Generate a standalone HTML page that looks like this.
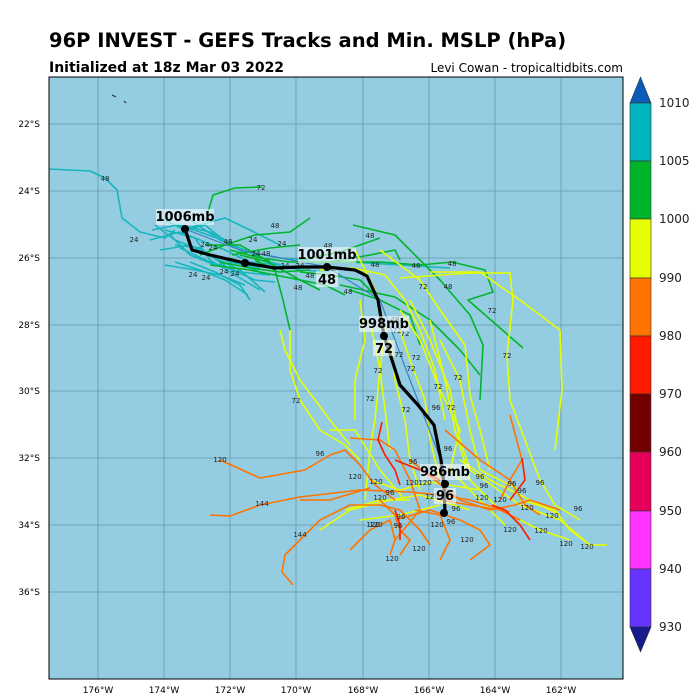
<!DOCTYPE html>
<html><head><meta charset="utf-8"><style>
html,body{margin:0;padding:0;background:#fff;}
svg{display:block;font-family:"DejaVu Sans","Liberation Sans",sans-serif;}
</style></head><body>
<svg width="700" height="700" viewBox="0 0 700 700" xmlns="http://www.w3.org/2000/svg">
<text x="49" y="47" font-size="19.5" font-weight="bold" fill="#000">96P INVEST - GEFS Tracks and Min. MSLP (hPa)</text>
<text x="49" y="72" font-size="14" font-weight="bold" fill="#000">Initialized at 18z Mar 03 2022</text>
<text x="623" y="72" font-size="12" fill="#000" text-anchor="end">Levi Cowan - tropicaltidbits.com</text>
<rect x="49" y="77" width="574" height="602" fill="#94cde2"/>
<g stroke="#5e8a9c" stroke-width="0.8" opacity="0.8">
<line x1="98" y1="77" x2="98" y2="679"/><line x1="164" y1="77" x2="164" y2="679"/><line x1="230" y1="77" x2="230" y2="679"/><line x1="296" y1="77" x2="296" y2="679"/><line x1="363" y1="77" x2="363" y2="679"/><line x1="429" y1="77" x2="429" y2="679"/><line x1="495" y1="77" x2="495" y2="679"/><line x1="561" y1="77" x2="561" y2="679"/>
<line x1="49" y1="124" x2="623" y2="124"/><line x1="49" y1="191" x2="623" y2="191"/><line x1="49" y1="258" x2="623" y2="258"/><line x1="49" y1="325" x2="623" y2="325"/><line x1="49" y1="391" x2="623" y2="391"/><line x1="49" y1="458" x2="623" y2="458"/><line x1="49" y1="525" x2="623" y2="525"/><line x1="49" y1="592" x2="623" y2="592"/>
</g>
<path d="M112,95 l4,2 M124,101 l2,2" stroke="#333" stroke-width="1.2" fill="none"/>
<g fill="none" stroke-width="1.6" stroke-linejoin="round">
<g stroke="#17b6bd">
<polyline points="49,169 90,171 105,178 117,190 122,218 140,232 165,238 175,230"/>
<polyline points="150,240 180,232 200,240 225,250 250,262 280,265"/>
<polyline points="175,262 200,270 225,280 248,295"/>
<polyline points="160,250 190,245 215,258 240,270 265,292"/>
<polyline points="180,225 210,232 240,248 270,262 300,270 330,272"/>
<polyline points="165,230 195,238 210,260 235,275 260,290"/>
<polyline points="180,248 210,262 240,272 270,275"/>
<polyline points="190,220 220,240 250,252 280,258 310,260"/>
<polyline points="165,265 195,270 220,275 245,285"/>
<polyline points="185,229 225,218 250,230 280,245"/>
<polyline points="350,262 400,265 450,268"/>
<polyline points="160,218 185,230 205,225 230,245"/>
<polyline points="155,225 175,240 200,250 230,262 260,268"/>
<polyline points="170,235 190,255 215,265 240,262 265,275"/>
<polyline points="152,230 178,225 200,232 222,240 248,255"/>
<polyline points="175,245 200,248 228,268 255,280 275,282"/>
<polyline points="190,262 215,272 240,285 250,300"/>
</g>
<g stroke="#00b52a">
<polyline points="208,212 213,195 235,188 262,187"/>
<polyline points="200,255 225,245 255,235 290,232 310,218"/>
<polyline points="230,250 260,258 290,262 330,262 370,255 395,250 400,260"/>
<polyline points="210,265 250,270 290,278 325,285 345,295"/>
<polyline points="255,260 275,270 283,300 290,330"/>
<polyline points="300,260 340,252 360,245 380,238"/>
<polyline points="300,272 330,275 360,280 380,300"/>
<polyline points="205,245 240,245 270,262"/>
<polyline points="330,262 380,262 420,265 452,262 485,270 493,292 468,300 523,348"/>
<polyline points="353,225 395,235 425,265 440,280 470,315 483,345 480,400"/>
<polyline points="350,290 380,300 410,315 420,345"/>
<polyline points="340,285 395,297 430,320 460,350 480,375"/>
<polyline points="232,255 270,248 300,245"/>
<polyline points="220,262 250,268 280,272 310,270"/>
<polyline points="240,255 268,262 300,280 320,290"/>
</g>
<g stroke="#e6ff00">
<polyline points="320,270 352,268 385,275 405,300 420,330 435,370 445,420"/>
<polyline points="400,278 470,273 510,273 513,300 507,355 510,400 525,440 540,480 555,505 580,520"/>
<polyline points="430,272 480,272 520,300 560,330 562,390 555,450"/>
<polyline points="380,250 420,280 440,310 465,345 470,395 480,430 490,470"/>
<polyline points="355,250 375,290 385,330 380,370 375,420 370,450 365,500"/>
<polyline points="360,300 365,340 355,380 355,420"/>
<polyline points="290,330 290,370 300,400 320,430 345,445 360,460"/>
<polyline points="280,330 285,350 300,380 330,420 350,445"/>
<polyline points="400,330 410,360 425,400 430,440 440,480"/>
<polyline points="410,300 430,340 450,390 460,440 470,470 520,505 560,520 590,545 607,545"/>
<polyline points="440,340 460,380 470,430 480,470 520,490"/>
<polyline points="390,340 395,380 405,420 410,460 420,490"/>
<polyline points="370,320 380,370 385,410 390,450"/>
<polyline points="430,320 445,380 455,430 470,480 500,510 540,530 570,540"/>
<polyline points="400,310 420,340 440,390 460,430 450,470 480,500 505,525"/>
<polyline points="330,430 355,430 380,470 405,500"/>
<polyline points="320,530 350,510 390,500 420,495 470,510"/>
<polyline points="360,520 400,515 440,505"/>
<polyline points="520,500 555,510 570,530 590,545"/>
<polyline points="460,460 490,480 510,490 540,505 560,515"/>
<polyline points="370,480 400,490 430,482 480,490"/>
<polyline points="345,510 380,500 410,500"/>
</g>
<g stroke="#ff7300">
<polyline points="220,460 260,478 305,470 330,455 345,450 360,465 375,485 395,500"/>
<polyline points="210,515 230,516 260,505 300,497 360,490 410,492 440,495 470,500 510,512"/>
<polyline points="293,585 282,572 285,555 300,540 320,520 350,505 380,505 400,510 420,530 430,545"/>
<polyline points="350,438 380,440 395,450 410,480 420,510 395,540 390,555"/>
<polyline points="395,520 430,510 460,520 480,530 490,545 470,560"/>
<polyline points="410,460 435,480 460,500 490,510 515,505 530,500 560,510"/>
<polyline points="380,500 395,515 400,530 410,540 400,555"/>
<polyline points="350,550 370,530 390,520 395,540"/>
<polyline points="440,500 470,505 500,510 520,520"/>
<polyline points="445,430 480,460 510,480 525,505 540,515"/>
<polyline points="510,415 522,460 510,480 500,500"/>
<polyline points="415,510 440,515 450,540 440,560"/>
<polyline points="300,500 330,500 370,488"/>
</g>
<g stroke="#ff1a00">
<polyline points="382,422 378,440 385,455 395,470 400,485"/>
<polyline points="395,460 420,470 440,480"/>
<polyline points="492,505 505,510 520,525 530,540"/>
<polyline points="510,500 525,480 522,458"/>
<polyline points="395,510 400,525 400,540"/>
</g>
<polyline stroke="#3a7fc0" stroke-width="1.2" points="185,229 240,250 327,267 380,300 410,380 441,460 445,514"/>
</g>
<g font-size="7" fill="#222" text-anchor="middle">
<text x="105" y="181">48</text><text x="134" y="242">24</text><text x="261" y="190">72</text>
<text x="205" y="247">24</text><text x="213" y="250">24</text><text x="228" y="244">48</text><text x="253" y="242">24</text>
<text x="282" y="246">24</text><text x="275" y="228">48</text><text x="328" y="248">48</text><text x="370" y="238">48</text>
<text x="193" y="277">24</text><text x="206" y="280">24</text><text x="224" y="274">24</text><text x="235" y="276">24</text>
<text x="256" y="256">24</text><text x="266" y="256">48</text><text x="285" y="268">24</text><text x="300" y="268">24</text>
<text x="310" y="278">48</text><text x="298" y="290">48</text><text x="348" y="294">48</text><text x="375" y="267">48</text>
<text x="416" y="268">48</text><text x="452" y="266">48</text><text x="448" y="289">48</text><text x="423" y="289">72</text>
<text x="395" y="322">48</text><text x="397" y="333">72</text><text x="405" y="336">72</text><text x="492" y="313">72</text>
<text x="507" y="358">72</text><text x="399" y="357">72</text><text x="378" y="373">72</text><text x="370" y="401">72</text>
<text x="411" y="371">72</text><text x="438" y="389">72</text><text x="458" y="380">72</text><text x="451" y="410">72</text>
<text x="406" y="412">72</text><text x="296" y="403">72</text><text x="416" y="360">72</text>
<text x="320" y="456">96</text><text x="390" y="495">96</text><text x="413" y="464">96</text><text x="436" y="410">96</text>
<text x="448" y="451">96</text><text x="480" y="479">96</text><text x="484" y="488">96</text><text x="512" y="486">96</text>
<text x="522" y="493">96</text><text x="540" y="485">96</text><text x="578" y="511">96</text><text x="401" y="519">96</text>
<text x="398" y="528">96</text><text x="451" y="524">96</text><text x="456" y="511">96</text>
<text x="220" y="462">120</text><text x="355" y="479">120</text><text x="376" y="484">120</text><text x="380" y="500">120</text>
<text x="412" y="485">120</text><text x="425" y="485">120</text><text x="432" y="499">120</text><text x="437" y="527">120</text>
<text x="376" y="527">120</text><text x="373" y="527">120</text><text x="419" y="551">120</text><text x="392" y="561">120</text>
<text x="467" y="542">120</text><text x="482" y="500">120</text><text x="500" y="502">120</text><text x="510" y="532">120</text>
<text x="527" y="510">120</text><text x="541" y="533">120</text><text x="552" y="518">120</text><text x="566" y="546">120</text>
<text x="587" y="549">120</text><text x="262" y="506">144</text><text x="300" y="537">144</text>
</g>
<polyline fill="none" stroke="#000" stroke-width="3.2" stroke-linejoin="round" points="185,229 192,250 210,255 245,263 275,268 300,267 327,267 355,270 367,276 378,300 384,336 392,360 400,385 418,405 434,425 441,460 444,484 445,514"/>
<g fill="#000"><circle cx="185" cy="229" r="4"/><circle cx="245" cy="263" r="4"/><circle cx="327" cy="267" r="4"/><circle cx="384" cy="336" r="4"/><circle cx="445" cy="484" r="4"/><circle cx="444" cy="513" r="4"/></g>
<g font-size="13" font-weight="bold" fill="#000" text-anchor="middle">
<rect x="156" y="209" width="58" height="16" fill="#fff" opacity="0.55"/><text x="185" y="221">1006mb</text>
<rect x="298" y="247" width="58" height="16" fill="#fff" opacity="0.55"/><text x="327" y="259">1001mb</text>
<rect x="316" y="271" width="22" height="16" fill="#fff" opacity="0.55"/><text x="327" y="284">48</text>
<rect x="359" y="316" width="50" height="16" fill="#fff" opacity="0.55"/><text x="384" y="328">998mb</text>
<rect x="373" y="340" width="22" height="16" fill="#fff" opacity="0.55"/><text x="384" y="353">72</text>
<rect x="420" y="464" width="50" height="16" fill="#fff" opacity="0.55"/><text x="445" y="476">986mb</text>
<rect x="434" y="488" width="22" height="16" fill="#fff" opacity="0.55"/><text x="445" y="500">96</text>
</g>
<rect x="49" y="77" width="574" height="602" fill="none" stroke="#000" stroke-width="1"/>
<g font-size="9" fill="#000" text-anchor="middle">
<text x="98" y="693">176°W</text><text x="164" y="693">174°W</text><text x="230" y="693">172°W</text><text x="296" y="693">170°W</text><text x="363" y="693">168°W</text><text x="429" y="693">166°W</text><text x="495" y="693">164°W</text><text x="561" y="693">162°W</text>
</g>
<g font-size="9" fill="#000" text-anchor="end">
<text x="40" y="127">22°S</text><text x="40" y="194">24°S</text><text x="40" y="261">26°S</text><text x="40" y="328">28°S</text><text x="40" y="394">30°S</text><text x="40" y="461">32°S</text><text x="40" y="528">34°S</text><text x="40" y="595">36°S</text>
</g>
<g stroke="#333" stroke-width="0.6">
<polygon points="630,103 640.5,77 651,103" fill="#0a5cb8"/>
<rect x="630" y="103" width="21" height="58" fill="#00b5bd"/>
<rect x="630" y="161" width="21" height="58" fill="#00b52a"/>
<rect x="630" y="219" width="21" height="59" fill="#e6ff00"/>
<rect x="630" y="278" width="21" height="58" fill="#ff7300"/>
<rect x="630" y="336" width="21" height="58" fill="#ff1a00"/>
<rect x="630" y="394" width="21" height="58" fill="#730000"/>
<rect x="630" y="452" width="21" height="59" fill="#e6005a"/>
<rect x="630" y="511" width="21" height="58" fill="#ff33ff"/>
<rect x="630" y="569" width="21" height="58" fill="#6633ff"/>
<polygon points="630,627 640.5,652 651,627" fill="#161a8c"/>
</g>
<g font-size="12" fill="#222">
<text x="659" y="107">1010</text><text x="659" y="165">1005</text><text x="659" y="223">1000</text><text x="659" y="282">990</text><text x="659" y="340">980</text><text x="659" y="398">970</text><text x="659" y="456">960</text><text x="659" y="515">950</text><text x="659" y="573">940</text><text x="659" y="631">930</text>
</g>
</svg>
</body></html>
